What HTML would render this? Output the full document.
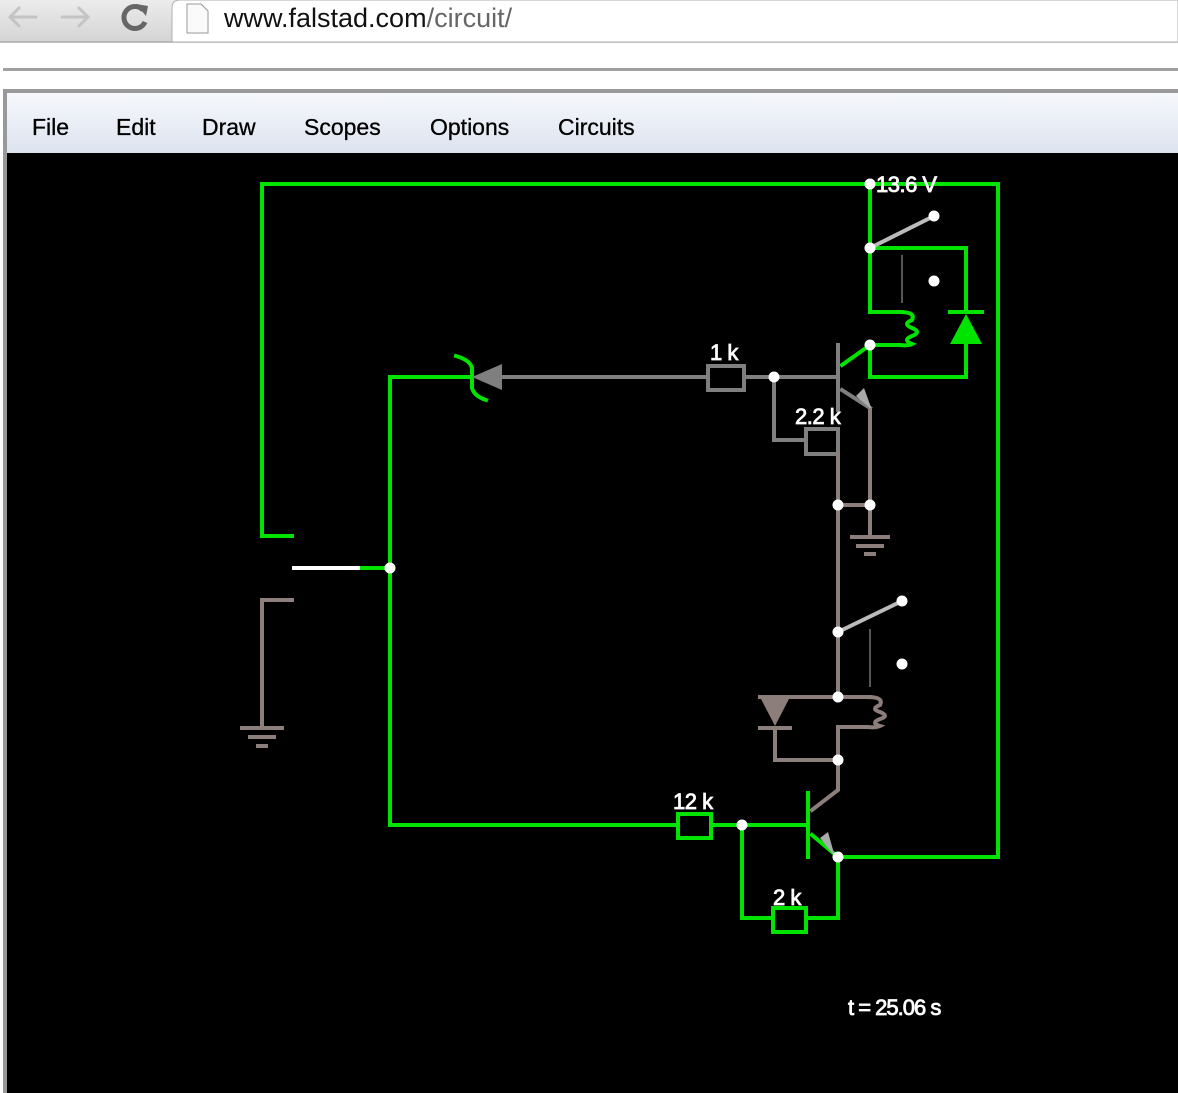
<!DOCTYPE html>
<html><head><style>
html,body{margin:0;padding:0;width:1178px;height:1093px;overflow:hidden;background:#fff;font-family:"Liberation Sans",sans-serif}
</style></head><body>
<svg width="1178" height="1093" xmlns="http://www.w3.org/2000/svg" style="position:absolute;left:0;top:0">
<defs>
<linearGradient id="tb" x1="0" y1="0" x2="0" y2="1"><stop offset="0" stop-color="#ececec"/><stop offset="1" stop-color="#d4d4d4"/></linearGradient>
<linearGradient id="mb" x1="0" y1="0" x2="0" y2="1"><stop offset="0" stop-color="#f6f8fc"/><stop offset="1" stop-color="#dde3ef"/></linearGradient>
</defs>
<rect x="0" y="0" width="1178" height="42" fill="url(#tb)"/>
<line x1="0" y1="42" x2="1178" y2="42" stroke="#a8a8a8" stroke-width="1.5"/>
<path d="M172,42 V8 Q172,0 180,0 H1178 V42 Z" fill="#fff" stroke="#b0b0b0"/>
<g stroke="#c4c4c4" stroke-width="3" fill="none" stroke-linecap="round">
<path d="M36,17 H10 M19,8 L10,17 L19,26"/>
<path d="M62,17 H88 M79,8 L88,17 L79,26"/>
</g>
<path d="M143,10 A11,11 0 1 0 145,22" stroke="#666" stroke-width="5" fill="none"/>
<polygon points="136,4 148,6 146,16" fill="#666"/>
<path d="M187,4 h14 l7,7 v22 h-21 Z" fill="#fafafa" stroke="#999"/>
<text x="224" y="27" font-size="27" fill="#111">www.falstad.com<tspan fill="#666">/circuit/</tspan></text>
<rect x="3" y="68" width="1175" height="3" fill="#a0a0a0"/>
<rect x="3" y="89" width="1175" height="4" fill="#999"/>
<rect x="3" y="89" width="4" height="1004" fill="#999"/>
<rect x="7" y="93" width="1171" height="60" fill="url(#mb)"/>
<g font-size="23" fill="#000" stroke="#000" stroke-width="0.3">
<text x="32" y="135">File</text><text x="116" y="135">Edit</text><text x="202" y="135">Draw</text>
<text x="304" y="135">Scopes</text><text x="430" y="135">Options</text><text x="558" y="135">Circuits</text>
</g>
<rect x="7" y="153" width="1171" height="940" fill="#000"/>
<g fill="none" stroke-width="4" stroke-linecap="square">
<g stroke="#00e400">
<polyline points="292,536 262,536 262,184 998,184 998,857 838,857"/>
<line x1="358" y1="568" x2="390" y2="568"/>
<polyline points="390,825 390,377 470,377"/>
<path d="M456,356 Q470,360 472,368 V388 Q474,396 486,400"/>
<polyline points="870,184 870,248 966,248 966,312"/>
<polyline points="966,344 966,377 870,377 870,345"/>
<polyline points="870,248 870,312 900,312"/>
<path d="M900,312 q16,0 12,8 q-10,4 0,8 q10,4 0,8 q-10,4 0,8 q-4,2 -12,1 H870"/>
<line x1="842" y1="365" x2="870" y2="345"/>
<polyline points="390,825 678,825"/>
<rect x="678" y="814" width="33" height="24"/>
<polyline points="711,825 808,825"/>
<line x1="808" y1="793" x2="808" y2="857"/>
<polyline points="742,825 742,918 773,918"/>
<rect x="773" y="908" width="33" height="24"/>
<polyline points="806,918 838,918 838,857 812,835"/>
<line x1="950" y1="312" x2="982" y2="312"/>
</g>
<polygon points="966,314 950,344 982,344" fill="#00e400"/>
<g stroke="#7f7f7f">
<line x1="502" y1="377" x2="708" y2="377"/>
<rect x="708" y="366" width="36" height="24"/>
<polyline points="744,377 838,377"/>
<line x1="838" y1="345" x2="838" y2="410"/>
<polyline points="774,377 774,440 806,440"/>
<rect x="806" y="429" width="32" height="25"/>
<polyline points="842,390 870,408"/>
</g>
<polygon points="472,377 502,364 502,390" fill="#7f7f7f"/>
<polygon points="872,410 856,396 864,388" fill="#aaa"/>
<g stroke="#8c7e7b">
<polyline points="292,600 262,600 262,728"/>
<line x1="242" y1="728" x2="282" y2="728"/><line x1="250" y1="737" x2="274" y2="737"/><line x1="258" y1="746" x2="266" y2="746"/>
<polyline points="870,410 870,537"/>
<line x1="852" y1="537" x2="888" y2="537"/><line x1="858" y1="546" x2="882" y2="546"/><line x1="866" y1="554" x2="874" y2="554"/>
<line x1="838" y1="454" x2="838" y2="697"/>
<line x1="838" y1="505" x2="870" y2="505"/>
<polyline points="870,697 760,697"/>
<polyline points="838,697 868,697"/>
<path d="M868,697 q16,0 12,8 q-10,4 0,7 q10,4 0,7 q-10,4 0,7 q-4,2 -12,1 H838 V790 L812,810"/>
<line x1="760" y1="728" x2="790" y2="728"/>
<polyline points="775,728 775,760 838,760"/>
</g>
<polygon points="760,697 790,697 775,726" fill="#8c7e7b"/>
<line x1="294" y1="568" x2="358" y2="568" stroke="#fff"/>
<line x1="870" y1="248" x2="934" y2="216" stroke="#bbb"/>
<line x1="838" y1="632" x2="902" y2="601" stroke="#bbb"/>
<line x1="902" y1="256" x2="902" y2="302" stroke="#555" stroke-width="2"/>
<line x1="870" y1="630" x2="870" y2="686" stroke="#555" stroke-width="2"/>
</g>
<polygon points="835,857 820,838 828,832" fill="#aaa"/>
<g fill="#fff">
<circle cx="390" cy="568" r="5.5"/><circle cx="774" cy="377" r="5.5"/><circle cx="870" cy="184" r="5.5"/>
<circle cx="870" cy="248" r="5.5"/><circle cx="934" cy="216" r="5.5"/><circle cx="934" cy="281" r="5.5"/>
<circle cx="870" cy="345" r="5.5"/><circle cx="838" cy="505" r="5.5"/><circle cx="870" cy="505" r="5.5"/>
<circle cx="838" cy="632" r="5.5"/><circle cx="902" cy="601" r="5.5"/><circle cx="902" cy="664" r="5.5"/>
<circle cx="838" cy="697" r="5.5"/><circle cx="838" cy="760" r="5.5"/><circle cx="742" cy="825" r="5.5"/>
<circle cx="838" cy="857" r="5.5"/>
</g>
<g fill="#fff" stroke="#fff" stroke-width="0.8" font-size="22" letter-spacing="-0.5">
<text x="876" y="192">13.6 V</text>
<text x="710" y="360">1 k</text>
<text x="795" y="424">2.2 k</text>
<text x="673" y="809">12 k</text>
<text x="773" y="905">2 k</text>
<text x="848" y="1015" letter-spacing="-1">t = 25.06 s</text>
</g>
</svg>
</body></html>
